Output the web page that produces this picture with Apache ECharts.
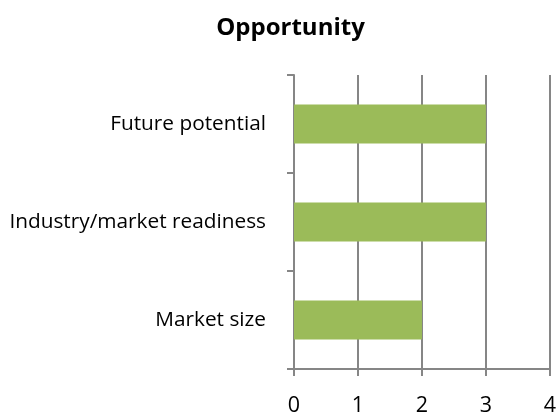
<!DOCTYPE html>
<html>
<head>
<meta charset="utf-8">
<script src="https://cdn.jsdelivr.net/npm/echarts@6/dist/echarts.min.js"></script>
<style>
  html, body { margin: 0; padding: 0; background: #ffffff; }
  #chart { width: 559px; height: 417px; }
</style>
</head>
<body>
<div id="chart"></div>
<script>
// Opportunity scores per criterion (listed bottom to top on the category axis)
const categories = ['Market size', 'Industry/market readiness', 'Future potential'];
const scores = [2, 3, 3];
const valueTicks = [0, 1, 2, 3, 4];

const axisGray = '#868686';
const font = '"Open Sans", "Liberation Sans", sans-serif';

const chart = echarts.init(document.getElementById('chart'));
chart.setOption({
  animation: false,
  backgroundColor: '#ffffff',
  title: {
    text: 'Opportunity',
    left: 285.5,
    top: 11,
    textAlign: 'center',
    textStyle: { fontFamily: font, fontWeight: 'bold', fontSize: 24, color: '#000000' }
  },
  grid: { left: 294, right: 6, top: 75, bottom: 47, containLabel: false },
  xAxis: {
    type: 'value',
    min: valueTicks[0],
    max: valueTicks[valueTicks.length - 1],
    interval: 1,
    axisLine: { show: true, lineStyle: { color: axisGray, width: 2 } },
    axisTick: { show: true, length: 7, lineStyle: { color: axisGray, width: 2 } },
    splitLine: { show: true, lineStyle: { color: axisGray, width: 2 } },
    axisLabel: { fontFamily: font, fontSize: 21.5, color: '#000000', margin: 26 }
  },
  yAxis: {
    type: 'category',
    data: categories,
    axisLine: { show: true, lineStyle: { color: axisGray, width: 2 } },
    axisTick: { show: true, length: 7, alignWithLabel: false, lineStyle: { color: axisGray, width: 2 } },
    axisLabel: { fontFamily: font, fontSize: 20.8, color: '#000000', margin: 28 }
  },
  series: [{
    type: 'bar',
    data: scores,
    barWidth: 39,
    itemStyle: { color: '#9BBB59' }
  }]
});
</script>
</body>
</html>
